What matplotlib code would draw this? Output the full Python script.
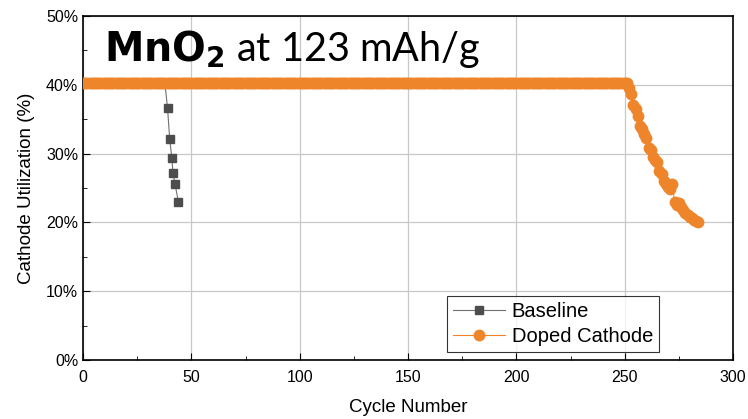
import numpy as np
import matplotlib
matplotlib.use("Agg")
import matplotlib.pyplot as plt
from matplotlib.ticker import MultipleLocator, PercentFormatter

# cycle data, utilization in percent
baseline_cycles = list(range(0, 39)) + [39, 40, 41, 41.5, 42.5, 44]
baseline_util = [39.6] * 39 + [36.6, 32.1, 29.3, 27.2, 25.5, 23.0]

doped_cycles = list(range(0, 252)) + list(range(252, 285))
doped_util = [40.2] * 252 + [
    39.5, 38.7, 37.0, 36.5, 35.5, 34.0, 33.5, 32.8, 32.2, 30.8,
    30.5, 29.5, 29.0, 28.8, 27.5, 27.0, 26.0, 25.5, 25.2, 24.8,
    25.6, 23.0, 22.5, 22.8, 22.2, 21.8, 21.3, 21.0, 20.8, 20.6,
    20.4, 20.2, 20.0,
]

GRAY = "#4d4d4d"
ORANGE = "#ef852b"

plt.rcParams["font.family"] = ["Liberation Sans", "DejaVu Sans"]

fig = plt.figure(figsize=(7.48, 4.19), dpi=100)
ax = fig.add_axes([0.111, 0.141, 0.869, 0.821])

# plateau points sit under the doped series, only the drop gets markers
ax.plot(baseline_cycles, baseline_util, color="#707070", lw=0.8,
        marker="s", ms=5.5, mfc=GRAY, mec=GRAY, label="Baseline",
        markevery=list(range(39, len(baseline_cycles))), zorder=3)
ax.plot(doped_cycles, doped_util, color=ORANGE, lw=0.8,
        marker="o", ms=7.5, mfc=ORANGE, mec=ORANGE, label="Doped Cathode", zorder=4)

ax.set_xlim(0, 300)
ax.set_ylim(0, 50)
ax.xaxis.set_major_locator(MultipleLocator(50))
ax.xaxis.set_minor_locator(MultipleLocator(25))
ax.yaxis.set_major_locator(MultipleLocator(10))
ax.yaxis.set_minor_locator(MultipleLocator(5))
ax.yaxis.set_major_formatter(PercentFormatter(decimals=0))
ax.tick_params(which="both", direction="in", top=False, right=False, labelsize=11.5)
ax.tick_params(which="major", length=5)
ax.tick_params(which="minor", length=3)
ax.tick_params(axis="x", pad=7)
ax.grid(True, which="major", color="#c8c8c8", lw=0.9)
ax.set_axisbelow(True)
for s in ax.spines.values():
    s.set_linewidth(1.2)

ax.set_xlabel("Cycle Number", fontsize=13.5, labelpad=10)
ax.set_ylabel("Cathode Utilization (%)", fontsize=13.5, labelpad=8)

ax.text(0.033, 0.905, r"$\mathbf{MnO_2}$ at 123 mAh/g", transform=ax.transAxes,
        fontsize=28.5, family="Lato", va="center", ha="left", zorder=5)

leg = ax.legend(loc="lower right", bbox_to_anchor=(0.886, 0.023), fontsize=14.5,
                frameon=True, fancybox=False, edgecolor="black",
                handlelength=2.6, borderpad=0.3, labelspacing=0.3,
                handletextpad=0.3, borderaxespad=0)
leg.get_frame().set_linewidth(0.8)

fig.savefig("out.png", dpi=100)
